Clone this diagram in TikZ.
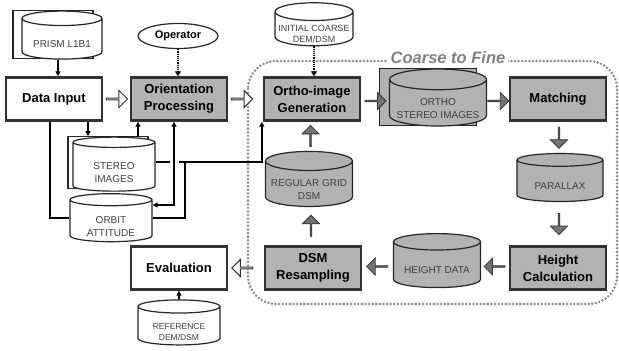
\documentclass[tikz,border=0pt]{standalone}
\usepackage{fontspec}
\setmainfont{Liberation Sans}
\usetikzlibrary{shapes.geometric,shapes.arrows,calc,arrows.meta,positioning}

% text of a data store sits on the body, below the lid
\newcommand{\dbtext}[1]{\raisebox{-8.5pt}[0pt][0pt]{\begin{tabular}{@{}c@{}}#1\end{tabular}}}

\tikzset{
  proc/.style={draw=black!80, line width=2.4pt, fill=gray!60, minimum width=96pt,
    minimum height=43pt, align=center, inner sep=1pt,
    font=\fontsize{13}{17}\selectfont\bfseries},
  procw/.style={proc, fill=white},
  store/.style={cylinder, shape border rotate=90, aspect=0.25, draw=black!85,
    line width=1.2pt, fill=gray!60, inner sep=0pt, text=black!75,
    font=\fontsize{10}{13}\selectfont},
  storew/.style={store, fill=white},
  fatarrow/.style={single arrow, draw=black!80, fill=black!55, line width=0.8pt,
    minimum height=21pt, minimum width=17pt, single arrow head extend=4pt, inner sep=0pt},
  openarrow/.style={fatarrow, fill=white, line width=1pt},
  link/.style={line width=1.6pt, draw=black},
  tip/.style={-{Triangle[length=5pt,width=5pt]}},
  dots/.style={line width=2.6pt, dash pattern=on 1.2pt off 1pt, -{Triangle[length=5pt,width=6pt]}},
  frame/.style={draw=black!45, line width=2.8pt, line cap=round,
    dash pattern=on 0pt off 3.6pt, rounded corners=28pt},
}

\begin{document}
\begin{tikzpicture}[x=1pt,y=-1pt]
\useasboundingbox (0,0) rectangle (619,351);
%
% coarse to fine loop
\draw[frame] (248,61) rectangle (617,304);
\node[fill=white, inner xsep=3pt, text=black!50, font=\fontsize{16.5}{17}\selectfont\bfseries\itshape] (cftitle) at (448,58) {Coarse to Fine};
%
% inputs and orientation
\node[storew, minimum width=80pt, minimum height=48pt] (prismback) at (53,35) {};
\node[storew, minimum width=80pt, minimum height=48pt] (prism) at (62,39) {\dbtext{PRISM L1B1}};
\node[procw] (input) at (54,99) {Data Input};
\node[proc] (orient) at (179,99) {Orientation\\Processing};
\node[draw=black!85, line width=1.2pt, ellipse, minimum width=80pt, minimum height=25pt, inner sep=0pt, font=\fontsize{11}{11}\selectfont\bfseries] (operator) at (178,36) {Operator};
\node[storew, minimum width=80pt, minimum height=52pt] (stereoback) at (108,163) {};
\node[storew, minimum width=82pt, minimum height=54pt] (stereo) at (114,167) {\dbtext{STEREO\\IMAGES}};
\node[storew, minimum width=82pt, minimum height=48pt] (orbit) at (111,221) {\dbtext{ORBIT\\ATTITUDE}};
\node[procw] (eval) at (179,268) {Evaluation};
\node[storew, minimum width=82pt, minimum height=45pt, font=\fontsize{8.5}{11}\selectfont] (refdem) at (179,326) {\dbtext{REFERENCE\\DEM/DSM}};
%
% loop
\node[storew, minimum width=78pt, minimum height=43pt, font=\fontsize{9}{11}\selectfont] (initdem) at (314,29) {\dbtext{INITIAL COARSE\\DEM/DSM}};
\node[proc] (ortho) at (312,99) {Ortho-image\\Generation};
\node[store, minimum width=97pt, minimum height=57pt] (orthoback) at (428,97) {};
\node[store, minimum width=97pt, minimum height=57pt] (orthoimg) at (438,103) {\dbtext{ORTHO\\STEREO IMAGES}};
\node[proc] (match) at (558,99) {Matching};
\node[store, minimum width=86pt, minimum height=48pt] (parallax) at (560,181) {\dbtext{PARALLAX}};
\node[proc] (height) at (558,268) {Height\\Calculation};
\node[store, minimum width=87pt, minimum height=54pt] (hdata) at (437,265) {\dbtext{HEIGHT DATA}};
\node[proc] (resample) at (313,268) {DSM\\Resampling};
\node[store, minimum width=87pt, minimum height=55pt] (grid) at (309,184) {\dbtext{REGULAR GRID\\DSM}};
%
% block arrows
\node[openarrow] (a1) at ($(input.east)!0.5!(orient.west)$) {};
\node[openarrow, right=3pt of orient] (a2) {};
\node[openarrow, shape border rotate=180, right=3pt of eval] (a3) {};
\node[fatarrow] (g1) at ($(ortho.east)!0.5!(orthoimg.west)$) {};
\node[fatarrow] (g2) at ($(orthoimg.east)!0.5!(match.west)$) {};
\node[fatarrow, shape border rotate=270] (g3) at ($(match.south)!0.5!(parallax.north)$) {};
\node[fatarrow, shape border rotate=270] (g4) at ($(parallax.south)!0.5!(height.north)$) {};
\node[fatarrow, shape border rotate=180] (g5) at ($(height.west)!0.5!(hdata.east)$) {};
\node[fatarrow, shape border rotate=180] (g6) at ($(hdata.west)!0.5!(resample.east)$) {};
\node[fatarrow, shape border rotate=90] (g7) at ($(resample.north)!0.5!(grid.south)$) {};
\node[fatarrow, shape border rotate=90] (g8) at ($(grid.north)!0.5!(ortho.south)$) {};
%
% thin connectors
\coordinate (hub) at (185,162);
\draw[link,tip] ([xshift=-4pt]prism.south) -- ([xshift=-4pt]prism.south |- input.north);
\draw[dots] (operator.south) -- (operator.south |- orient.north);
\draw[dots] (initdem.south) -- (initdem.south |- ortho.north);
\draw[link,tip] ([xshift=34pt]input.south) -- ([xshift=34pt]input.south |- stereoback.north);
\draw[link] ([xshift=-4pt]input.south) |- ($(orbit.west)+(0,-3)$);
\draw[link,tip] ([xshift=24pt]stereo.north) -- ([xshift=24pt]stereo.north |- orient.south);
\draw[link] (stereo.east |- hub) -- (hub);
\draw[white, line width=9pt] ([xshift=-5pt]orient.south |- hub) ++(0,-1.5) -- ++(0,3);
\draw[link,{Triangle[length=5pt,width=5pt]}-{Triangle[length=5pt,width=5pt]}] ([xshift=-5pt]orient.south) |- ($(orbit.east)+(0,-16)$);
\draw[link] ($(orbit.east)+(0,-3)$) -| (hub);
\draw[link,tip] (hub) -| ([xshift=-1pt]ortho.south west);
\draw[link,tip] (refdem.north) -- (eval.south);
%
\end{tikzpicture}
\end{document}
